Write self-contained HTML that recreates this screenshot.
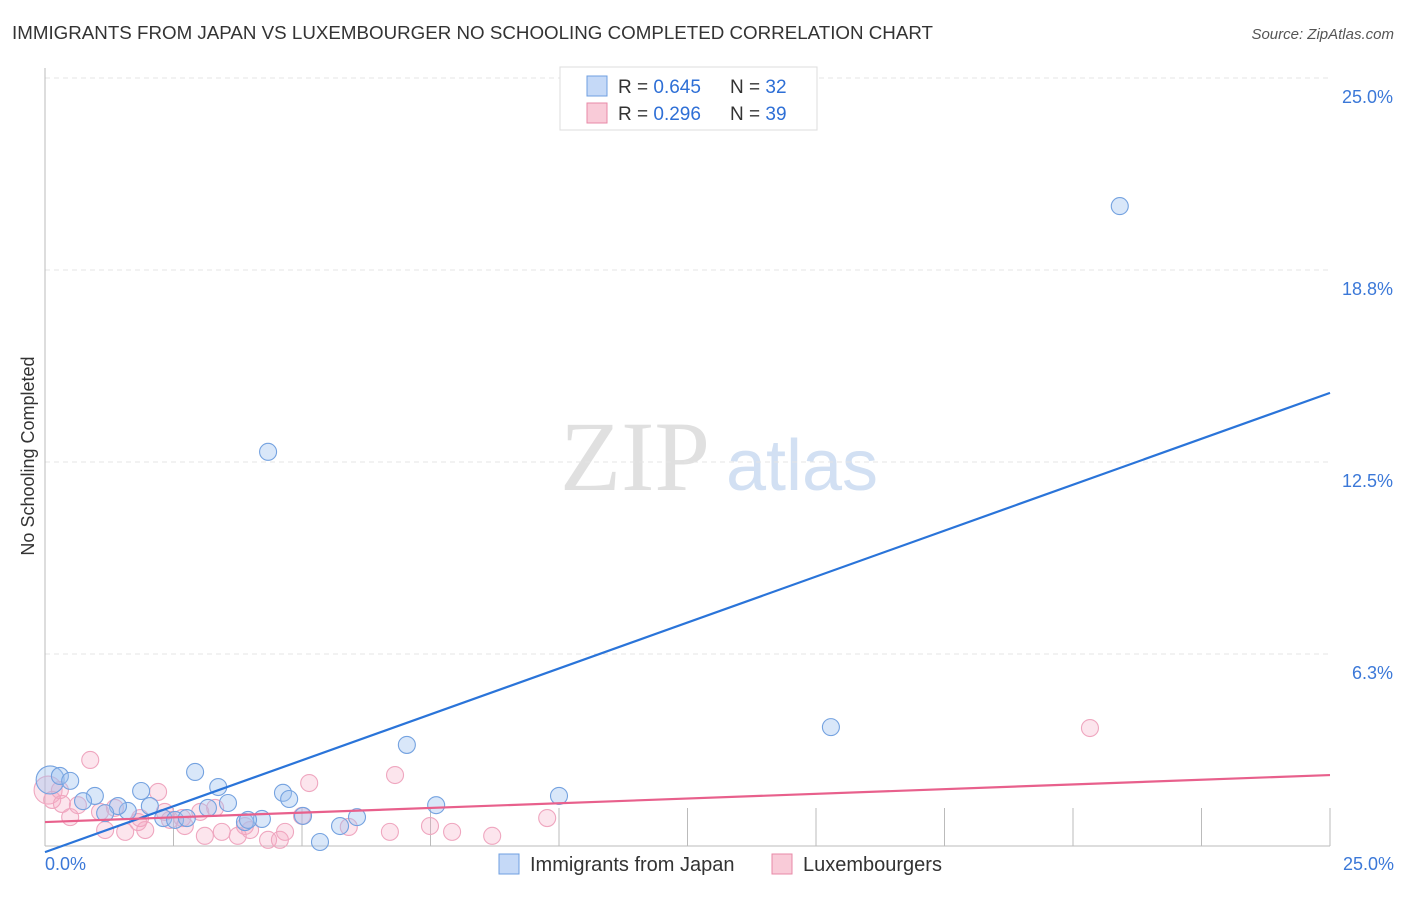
<!DOCTYPE html>
<html><head><meta charset="utf-8"><style>
body{margin:0;background:#fff;font-family:"Liberation Sans",sans-serif;}
</style></head><body>
<svg id="chart" width="1406" height="892" xmlns="http://www.w3.org/2000/svg" style="font-family:'Liberation Sans',sans-serif">
<text x="12" y="39" font-size="18" fill="#333" textLength="921" lengthAdjust="spacingAndGlyphs">IMMIGRANTS FROM JAPAN VS LUXEMBOURGER NO SCHOOLING COMPLETED CORRELATION CHART</text>
<text x="1394" y="39" font-size="15" fill="#555" font-style="italic" text-anchor="end">Source: ZipAtlas.com</text>
<text x="34" y="456" font-size="18" fill="#333" text-anchor="middle" transform="rotate(-90 34 456)">No Schooling Completed</text>
<g><text x="635" y="490" font-size="100" fill="#e0e0e0" font-family="Liberation Serif" text-anchor="middle">ZIP</text><text x="802" y="490" font-size="72" fill="#d2e0f3" text-anchor="middle">atlas</text></g>
<g id="grid"></g><g id="marks"></g>
<g>
<rect x="560" y="67" width="257" height="63" fill="#fff" stroke="#ddd"/>
<rect x="587" y="76" width="20" height="20" fill="#c5d9f7" stroke="#6f9fe0"/>
<rect x="587" y="103" width="20" height="20" fill="#f9cbd8" stroke="#e88aa7"/>
<text x="618" y="93" font-size="19" fill="#333">R = <tspan fill="#2e6fd6">0.645</tspan></text>
<text x="730" y="93" font-size="19" fill="#333">N = <tspan fill="#2e6fd6">32</tspan></text>
<text x="618" y="120" font-size="19" fill="#333">R = <tspan fill="#2e6fd6">0.296</tspan></text>
<text x="730" y="120" font-size="19" fill="#333">N = <tspan fill="#2e6fd6">39</tspan></text>
</g>
<g>
<rect x="499" y="854" width="20" height="20" fill="#c5d9f7" stroke="#6f9fe0"/>
<text x="530" y="871" font-size="20" fill="#333">Immigrants from Japan</text>
<rect x="772" y="854" width="20" height="20" fill="#f9cbd8" stroke="#e88aa7"/>
<text x="803" y="871" font-size="20" fill="#333">Luxembourgers</text>
</g>
</svg>
<script>
const yTicks=[6.25,12.5,18.75,25];
const yTickLabels=["6.3%","12.5%","18.8%","25.0%"];
const japanX=[0.1,0.29,0.49,0.97,0.74,1.61,1.42,1.17,1.87,2.04,2.30,2.53,2.76,2.92,3.17,3.37,3.56,3.89,4.22,4.34,4.63,4.75,5.02,5.35,5.74,6.07,7.04,7.61,10.0,15.29,20.91,3.95];
const japanY=[2.15,2.28,2.12,1.63,1.46,1.14,1.30,1.07,1.79,1.30,0.91,0.85,0.91,2.41,1.24,1.92,1.40,0.78,0.88,12.83,1.73,1.53,0.98,0.13,0.65,0.94,3.29,1.33,1.63,3.87,20.83,0.85];
const luxX=[0.06,0.14,0.33,0.49,0.88,1.07,0.64,1.17,1.36,1.56,1.81,1.95,2.20,2.33,2.43,2.67,3.02,3.11,3.31,3.44,3.75,3.99,4.34,4.57,4.67,5.14,5.0,5.91,6.71,6.81,7.49,7.92,8.70,9.77,20.33,1.85,3.89,2.72,0.29];
const luxY=[1.82,1.50,1.37,0.94,2.80,1.11,1.33,0.52,1.24,0.46,0.78,0.52,1.76,1.11,0.85,0.91,1.11,0.33,1.24,0.46,0.33,0.52,0.20,0.20,0.46,2.05,0.98,0.62,0.46,2.31,0.65,0.46,0.33,0.91,3.84,0.91,0.65,0.65,1.82];
const japanTrend=[-0.2,14.75];
const luxTrend=[0.78,2.31];
const X=v=>45+v*51.4, Y=v=>846-v*30.72;
const NS="http://www.w3.org/2000/svg";
const g=document.getElementById('grid'), m=document.getElementById('marks');
function mk(tag,at,parent){const e=document.createElementNS(NS,tag);for(const k in at)e.setAttribute(k,at[k]);parent.appendChild(e);return e;}
yTicks.forEach((t,i)=>{
 const l=mk('line',{x1:45,x2:1330,y1:Y(t),y2:Y(t),stroke:'#e4e4e4','stroke-dasharray':'5,4'},g);
 
 
 const tx=mk('text',{x:1393,y:Y(t)+25,'font-size':18,fill:'#3b78d8','text-anchor':'end'},g);
 tx.textContent=yTickLabels[i];
 
 
});
const ax=mk('line',{x1:45,x2:45,y1:68,y2:846,stroke:'#bbb'},g);


const bx=mk('line',{x1:45,x2:1330,y1:846,y2:846,stroke:'#bbb'},g);


for(let i=1;i<=10;i++){const v=i*2.5;const t=mk('line',{x1:X(v),x2:X(v),y1:808,y2:846,stroke:'#bbb'},g);
 
 }
[[0,"0.0%",'start',45],[25,"25.0%",'end',1394]].forEach(a=>{const t=mk('text',{x:a[3],y:870,'font-size':18,fill:'#3b78d8','text-anchor':a[2]},g);t.textContent=a[1];
 
 });
luxX.forEach((x,i)=>{const c=mk('circle',{cx:X(x),cy:Y(luxY[i]),r:i==0?14:8.5,fill:'rgba(246,170,195,0.3)',stroke:'#efa6bf','stroke-width':1.1},m);
 
 });
japanX.forEach((x,i)=>{const c=mk('circle',{cx:X(x),cy:Y(japanY[i]),r:i==0?14:8.5,fill:'rgba(160,196,240,0.4)',stroke:'#74a2e0','stroke-width':1.1},m);
 
 });
const l1=mk('line',{x1:X(0),y1:Y(japanTrend[0]),x2:X(25),y2:Y(japanTrend[1]),stroke:'#2a74d9','stroke-width':2.2},m);


const l2=mk('line',{x1:X(0),y1:Y(luxTrend[0]),x2:X(25),y2:Y(luxTrend[1]),stroke:'#e8608c','stroke-width':2.2},m);


</script>
</body></html>
